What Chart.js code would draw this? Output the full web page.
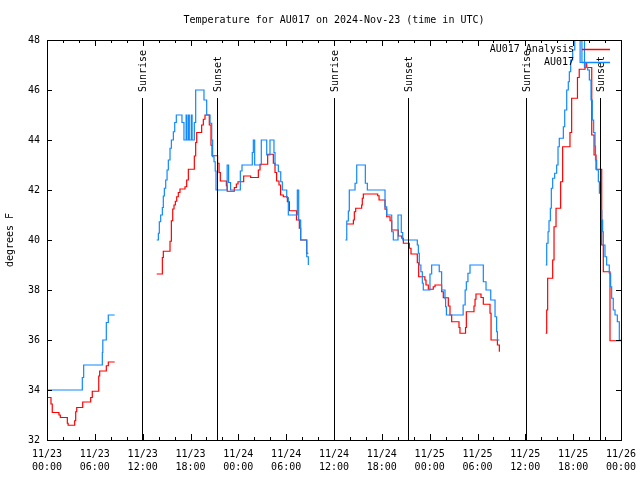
<!DOCTYPE html>
<html>
<head>
<meta charset="utf-8">
<script src="https://cdn.jsdelivr.net/npm/chart.js@4/dist/chart.umd.min.js"></script>
<style>
  body { margin: 0; background: #fff; }
  canvas { display: block; }
</style>
</head>
<body>
<canvas id="G1" width="640" height="480"></canvas>
<script>
// hours since 11/23 00:00 UTC, null temp = gap in the record
var obsHours = [
  0, 4.43, 4.6, 6.94, 7.0, 7.44, 7.69, 8.49, 8.5,
  13.76, 13.97, 14.09, 14.26, 14.47, 14.59, 14.72, 14.89, 15.06, 15.22, 15.43, 15.6, 15.85, 16.02, 16.22,
  16.93, 17.18, 17.45, 17.55, 17.75, 17.85, 18.1, 18.2, 18.48, 18.65, 19.69, 20.03, 20.45, 20.66, 20.78,
  20.95, 21.1, 21.2, 22.6, 22.78, 23.03, 24.25, 24.46, 25.75, 25.88, 26.05, 26.88, 27.56, 27.97, 28.47,
  28.6, 29.02, 29.32, 29.52, 30.07, 30.27, 31.4, 31.57, 31.82, 32.58, 32.78, 32.8,
  37.42, 37.6, 37.8, 37.92, 38.64, 38.85, 39.93, 40.18, 42.4, 42.61, 43.24, 43.44, 44.03, 44.44, 44.62,
  46.45, 46.58, 46.7, 46.9, 47.08, 47.2, 48.04, 48.25, 49.2, 49.5, 49.92, 50.0, 50.1, 52.2, 52.45, 52.6,
  52.8, 53.06, 54.73, 55.07, 55.66, 56.2, 56.4, 56.5, 56.74, 56.8,
  62.55, 62.68, 62.85, 62.97, 63.14, 63.26, 63.43, 63.68, 63.93, 64.1, 64.26, 64.77, 64.94, 65.19, 65.39,
  65.52, 65.69, 65.94, 66.2, 66.87, 67.1, 67.42, 67.82, 68.03, 68.24, 68.4, 68.57, 68.74, 68.8, 68.95,
  69.16, 69.29, 69.45, 69.58, 69.7, 69.78, 69.99, 70.2, 70.53, 70.7, 70.83, 71.03, 71.25, 71.54, 71.79, 71.96
];
var obsTemps = [
  34.0, 34.5, 35.0, 35.5, 36.0, 36.7, 37.0, 37.0, null,
  40.0, 40.27, 40.73, 41.0, 41.3, 41.76, 42.07, 42.4, 42.8, 43.2, 43.67, 44.0, 44.33, 44.7, 45.0,
  44.7, 44.0, 45.0, 44.0, 45.0, 44.0, 45.0, 44.0, 44.7, 46.0, 45.6, 45.0, 44.67, 44.0, 43.33,
  43.13, 42.76, 42.0, 43.0, 42.3, 42.0, 42.76, 43.0, 43.5, 44.0, 43.0, 44.0, 43.4, 44.0, 43.5,
  43.0, 42.73, 42.33, 42.0, 41.7, 41.0, 42.0, 40.8, 40.0, 39.33, 39.0, null,
  40.0, 40.76, 41.16, 42.0, 42.27, 43.0, 42.27, 42.0, 41.33, 41.0, 40.33, 40.0, 41.0, 40.3, 40.0,
  39.8, 39.47, 39.0, 38.73, 38.27, 38.0, 38.64, 39.0, 38.73, 38.0, 37.65, 37.33, 37.0, 37.4, 38.0, 38.33,
  38.67, 39.0, 38.33, 38.0, 37.6, 36.93, 36.33, 36.0, 36.0, null,
  39.0, 39.87, 40.33, 40.77, 41.27, 42.07, 42.47, 42.67, 43.0, 43.73, 44.07, 44.53, 45.2, 46.0, 46.33,
  46.73, 47.2, 47.6, 48.6, 47.1, 48.6, 46.9, 46.8, 46.4, 45.6, 44.8, 44.3, 43.76, 43.2, 42.8,
  42.33, 41.87, 41.2, 40.8, 40.33, 39.8, 39.33, 39.0, 38.67, 38.13, 37.67, 37.2, 37.0, 36.73, 36.0, 36.0
];

var anaHours = [
  0, 0.5, 0.66, 1.5, 1.67, 2.55, 2.65, 3.47, 3.6, 3.73, 4.48, 5.48, 5.68, 6.49, 6.61, 7.44, 7.69, 8.49, 8.5,
  13.76, 14.47, 14.59, 15.43, 15.6, 15.77, 15.93, 16.1, 16.27, 16.47, 16.68, 17.31, 17.52, 17.73, 18.48,
  18.65, 18.78, 19.4, 19.61, 19.82, 20.36, 20.57, 20.7, 21.4, 21.58, 21.74, 22.5, 22.6, 23.5, 23.75, 23.96,
  24.67, 25.55, 26.51, 26.72, 27.68, 28.39, 28.6, 28.8, 29.1, 29.3, 29.64, 30.15, 30.4, 31.3, 31.65,
  31.82, 32.58, 32.78, 32.8,
  37.6, 38.43, 38.55, 38.72, 39.47, 39.55, 39.68, 41.48, 41.65, 42.4, 42.61, 43.03, 43.24, 44.07, 44.5,
  44.7, 45.45, 45.66, 46.45, 46.62, 47.4, 47.54, 47.83, 48.45, 48.67, 49.5, 49.71, 50.34, 50.55, 50.76,
  51.68, 51.8, 52.5, 52.6, 53.56, 53.69, 53.81, 54.44, 54.73, 55.57, 55.7, 56.5, 56.74, 56.8,
  62.55, 62.68, 62.8, 63.43, 63.6, 63.85, 64.43, 64.68, 65.6, 65.81, 66.54, 66.76, 67.49, 67.7, 68.33,
  68.62, 68.87, 69.58, 69.78, 70.62, 72.0
];
var anaTemps = [
  33.7, 33.44, 33.1, 33.0, 32.9, 32.67, 32.59, 32.77, 33.13, 33.3, 33.52, 33.7, 33.95, 34.56, 34.76, 34.97, 35.12, 35.12, null,
  38.64, 39.3, 39.55, 39.95, 40.77, 41.24, 41.4, 41.55, 41.73, 41.9, 42.04, 42.13, 42.4, 42.83, 43.36,
  43.9, 44.3, 44.6, 44.83, 45.0, 44.6, 43.79, 43.37, 43.07, 42.7, 42.36, 42.17, 41.95, 42.1, 42.24, 42.33,
  42.56, 42.5, 42.8, 43.03, 43.43, 43.07, 42.7, 42.36, 42.2, 41.8, 41.73, 41.53, 41.17, 40.8, 40.47,
  40.0, 39.47, 39.47, null,
  40.64, 40.8, 41.13, 41.27, 41.4, 41.67, 41.84, 41.77, 41.6, 41.23, 40.93, 40.77, 40.4, 40.16, 40.07,
  39.87, 39.67, 39.44, 39.09, 38.53, 38.4, 38.2, 38.03, 38.13, 38.2, 37.93, 37.69, 37.36, 37.0, 36.73,
  36.5, 36.27, 36.5, 37.13, 37.36, 37.63, 37.84, 37.7, 37.43, 37.07, 36.0, 35.8, 35.53, null,
  36.27, 37.2, 38.47, 39.2, 40.53, 41.27, 42.33, 43.73, 44.3, 45.67, 46.5, 46.83, 47.1, 46.9, 44.2,
  43.4, 42.83, 39.8, 38.73, 35.97, 35.97
];

var sunHours = [11.92, 21.32, 36.0, 45.28, 60.08, 69.37];
var sunLabels = ["Sunrise", "Sunset", "Sunrise", "Sunset", "Sunrise", "Sunset"];
var dayLabels = ["11/23", "11/23", "11/23", "11/23", "11/24", "11/24", "11/24", "11/24", "11/25", "11/25", "11/25", "11/25", "11/26"];
var timeLabels = ["00:00", "06:00", "12:00", "18:00", "00:00", "06:00", "12:00", "18:00", "00:00", "06:00", "12:00", "18:00", "00:00"];
var seriesNames = ["AU017 Analysis", "AU017"];
var titulo = "Temperature for AU017 on 2024-Nov-23 (time in UTC)";

const fuente = "'DejaVu Sans Mono', monospace";
const rojo = "#ff0000";
const azul = "#1088ff";

function puntos(hh, tt) {
    var out = [];
    for (var i = 0; i < hh.length; i++) out.push({x: hh[i], y: tt[i]});
    return out;
}

// gnuplot style frame, inward ticks, sunrise/sunset markers, title and legend
var marcoGnuplot = {
    id: 'marcoGnuplot',
    afterDatasetsDraw(chart) {
        var ctx = chart.ctx, a = chart.chartArea;
        var xs = chart.scales.x, ys = chart.scales.y;
        ctx.save();
        ctx.strokeStyle = '#000';
        ctx.lineWidth = 1;
        ctx.beginPath();
        var topLinea = ys.getPixelForValue(45.68);
        sunHours.forEach(function (h) {
            var px = Math.round(xs.getPixelForValue(h)) + 0.5;
            ctx.moveTo(px, topLinea);
            ctx.lineTo(px, a.bottom);
        });
        for (var h = 0; h <= 72; h += 2) {
            var px = Math.round(xs.getPixelForValue(h)) + 0.5;
            var len = (h % 6 === 0) ? 6 : 3;
            ctx.moveTo(px, a.bottom); ctx.lineTo(px, a.bottom - len);
            ctx.moveTo(px, a.top); ctx.lineTo(px, a.top + len);
        }
        ys.ticks.forEach(function (t) {
            var py = Math.round(ys.getPixelForValue(t.value)) + 0.5;
            ctx.moveTo(a.left, py); ctx.lineTo(a.left + 5, py);
            ctx.moveTo(a.right, py); ctx.lineTo(a.right - 5, py);
        });
        ctx.stroke();
        ctx.strokeRect(Math.round(a.left) + 0.5, Math.round(a.top) + 0.5,
                       Math.round(a.right - a.left), Math.round(a.bottom - a.top));

        ctx.fillStyle = '#000';
        ctx.font = "10px " + fuente;
        ctx.textAlign = 'center';
        ctx.textBaseline = 'middle';
        ctx.fillText(titulo, (a.left + a.right) / 2, 20);

        sunHours.forEach(function (h, i) {
            var px = Math.round(xs.getPixelForValue(h)) + 0.5;
            ctx.save();
            ctx.translate(px + 1, topLinea - 6);
            ctx.rotate(-Math.PI / 2);
            ctx.textAlign = 'left';
            ctx.textBaseline = 'middle';
            ctx.fillText(sunLabels[i], 0, 0);
            ctx.restore();
        });

        var colores = [rojo, azul];
        ctx.textAlign = 'right';
        ctx.textBaseline = 'middle';
        seriesNames.forEach(function (n, i) {
            var yy = a.top + 9.5 + i * 13;
            ctx.fillStyle = '#000';
            ctx.fillText(n, a.right - 47, yy);
            ctx.strokeStyle = colores[i];
            ctx.lineWidth = 1.5;
            ctx.beginPath();
            ctx.moveTo(a.right - 39, yy);
            ctx.lineTo(a.right - 11, yy);
            ctx.stroke();
        });
        ctx.restore();
    }
};

var grafico = new Chart(document.getElementById("G1").getContext("2d"), {
    type: 'line',
    data: {
        datasets: [
            {label: seriesNames[1], data: puntos(obsHours, obsTemps), borderColor: azul, borderWidth: 1.2,
             stepped: 'before', pointRadius: 0, spanGaps: false, fill: false},
            {label: seriesNames[0], data: puntos(anaHours, anaTemps), borderColor: rojo, borderWidth: 1.2,
             stepped: 'before', pointRadius: 0, spanGaps: false, fill: false}
        ]
    },
    options: {
        responsive: false,
        animation: false,
        events: [],
        layout: {padding: {left: 0, right: 19, top: 40, bottom: 0}},
        plugins: {
            legend: {display: false},
            tooltip: {enabled: false},
            title: {display: false}
        },
        scales: {
            x: {
                type: 'linear', min: 0, max: 72,
                grid: {display: false, drawTicks: false},
                border: {display: false},
                ticks: {
                    stepSize: 6, autoSkip: false, maxRotation: 0, padding: 8, color: '#000',
                    font: {family: fuente, size: 10, lineHeight: 1.3},
                    callback: function (v) {
                        var i = Math.round(v / 6);
                        return [dayLabels[i], timeLabels[i]];
                    }
                },
                afterFit: function (s) { s.height = 40; s.paddingLeft = 0; s.paddingRight = 0; }
            },
            y: {
                min: 32, max: 48,
                grid: {display: false, drawTicks: false},
                border: {display: false},
                ticks: {stepSize: 2, padding: 7, color: '#000', font: {family: fuente, size: 10}},
                title: {display: true, text: 'degrees F', color: '#000',
                        font: {family: fuente, size: 10}, padding: {top: 4, bottom: 0}},
                afterFit: function (s) { s.width = 47; s.paddingTop = 0; s.paddingBottom = 0; }
            }
        }
    },
    plugins: [marcoGnuplot]
});
</script>
</body>
</html>
